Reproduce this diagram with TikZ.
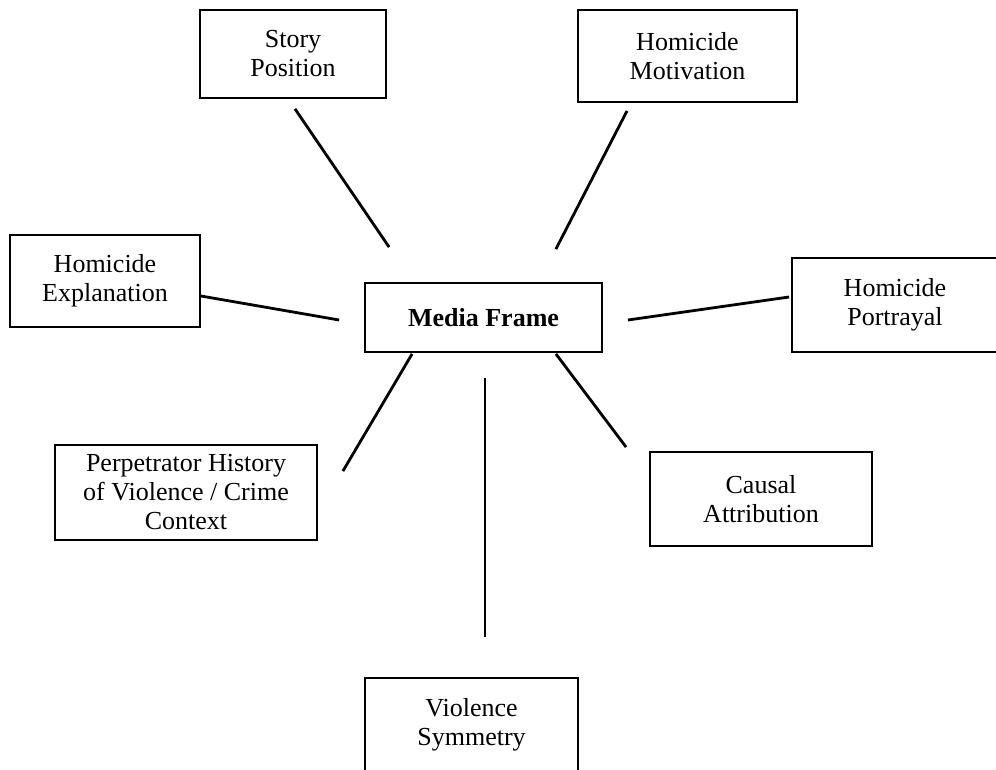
\documentclass[tikz,border=0pt]{standalone}
\usepackage{fontspec}
\setmainfont{Liberation Serif}
\usetikzlibrary{calc}

\begin{document}
\begin{tikzpicture}[x=1pt, y=-1pt,
factor/.style={rectangle, draw=black, line width=1.8pt, align=center,
  inner sep=0pt, font=\fontsize{26}{29}\selectfont},
%
hub/.style={factor, font=\fontsize{26}{29}\selectfont\bfseries},
%
spoke/.style={draw=black, line width=2.8pt}]

\useasboundingbox (0,0) rectangle (996,770);

%%%%%%%%%%%%%%%%%%%%%%%%%%%%%%
\node [hub, minimum width=237pt, minimum height=69pt] (media) at (483.5,317.5) {Media Frame};
%%%%%%%%%%%%%%%%%%%%%%%%%%%%%%
\node [factor, minimum width=186pt, minimum height=88pt] (story) at (293,54) {Story\\Position};
\node [factor, minimum width=219pt, minimum height=92pt] (motive) at (687.5,56) {Homicide\\Motivation};
\node [factor, minimum width=190pt, minimum height=92pt] (explain) at (105,281) {Homicide\\Explanation};
\node [factor, minimum width=206pt, minimum height=94pt] (portray) at (895,305) {Homicide\\Portrayal};
\node [factor, minimum width=262pt, minimum height=95pt] (perp) at (186,492.5) {Perpetrator History\\of Violence / Crime\\Context};
\node [factor, minimum width=222pt, minimum height=94pt] (causal) at (761,499) {Causal\\Attribution};
\node [factor, minimum width=213pt, minimum height=94pt] (symm) at (471.5,725) {Violence\\Symmetry};

%%%%%%%%%%%%%%%%%%%%%%%%%%%%%%
\draw [spoke] ($(story.south)+(2,10)$) -- ($(media.north west)+(25,-35)$);
\draw [spoke] ($(motive.south)+(-60.5,8)$) -- ($(media.north east)+(-47,-33)$);
\draw [spoke] ($(explain.east)+(0,15)$) -- ($(media.west)+(-25,2.5)$);
\draw [spoke] ($(media.east)+(25,2.5)$) -- ($(portray.west)+(-2,-8)$);
\draw [spoke] ($(media.south west)+(48,1)$) -- ($(perp.north east)+(25,27)$);
\draw [spoke] ($(media.south east)+(-47,1)$) -- ($(causal.north west)+(-23,-4)$);
\draw [spoke] ($(media.south)+(1.5,25)$) -- ($(symm.north)+(13.5,-40)$);

\end{tikzpicture}
\end{document}
